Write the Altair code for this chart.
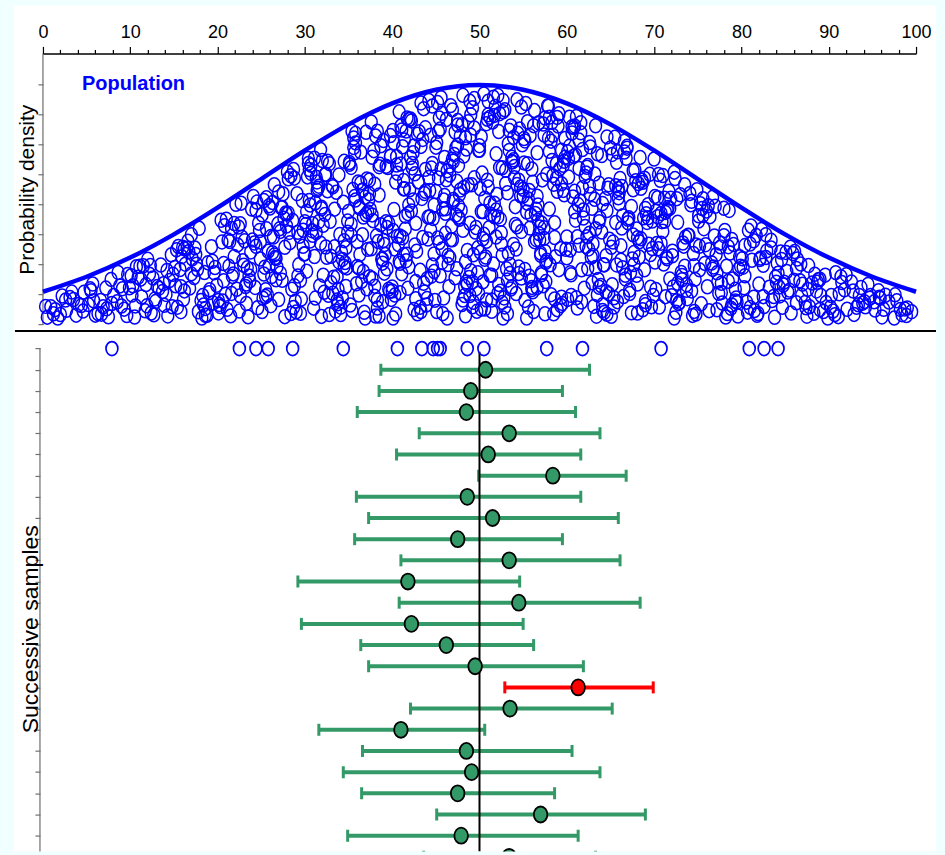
import altair as alt
import numpy as np
import pandas as pd

# ---------------- data ----------------
# population density curve, read every 5 units of x
curve_x = [0, 5, 10, 15, 20, 25, 30, 35, 40, 45, 50, 55, 60, 65, 70, 75, 80, 85, 90, 95, 100]
curve_d = [0.00216, 0.00316, 0.00444, 0.00599, 0.00777, 0.00968, 0.01159, 0.01333, 0.01473, 0.01564,
           0.01596, 0.01564, 0.01473, 0.01333, 0.01159, 0.00968, 0.00777, 0.00599, 0.00444, 0.00316, 0.00216]

# population dots: x position (tenths of a unit) and height as % of the room under the curve
pop_x_tenths = [
    12, 31, 5, 44, 22, 38, 9, 27, 47, 17, 35, 41,
    63, 88, 52, 75, 97, 69, 81, 57, 93, 72, 85, 60, 99, 78, 66, 90, 55,
    127, 103, 141, 115, 148, 109, 133, 120, 106, 145, 124, 112, 137, 101, 129, 118, 143, 107, 131, 122, 139, 113, 147, 126,
    152, 178, 165, 191, 157, 184, 170, 197, 161, 175, 188, 153, 168, 194, 181, 159, 173, 186, 163, 199, 155, 177, 190, 167, 182, 158, 171, 195, 162, 185, 176,
    203, 231, 217, 245, 209, 238, 224, 201, 249, 214, 233, 227, 206, 242, 219, 236, 211, 247, 229, 204, 222, 240, 215, 234, 208, 226, 244, 212, 237, 221, 202, 248, 230, 216, 243, 207, 225, 239, 218,
    253, 278, 261, 294, 270, 257, 286, 299, 265, 274, 251, 290, 282, 268, 259, 296, 276, 263, 288, 255, 272, 284, 297, 266, 280, 252, 292, 262, 275, 287, 258, 269, 295, 281, 254, 273, 289, 264, 277, 298, 260, 285, 271, 256, 293, 279, 267, 283,
    301, 327, 314, 342, 306, 335, 320, 348, 309, 331, 317, 344, 303, 324, 338, 311, 346, 329, 305, 322, 340, 313, 333, 302, 319, 347, 326, 308, 337, 315, 343, 323, 304, 330, 318, 345, 310, 336, 325, 349, 307, 321, 339, 312, 334, 300, 328, 341, 316, 332, 345, 306, 324, 338, 319, 311,
    352, 378, 364, 391, 357, 384, 370, 397, 361, 375, 388, 353, 368, 394, 381, 359, 373, 386, 363, 399, 355, 377, 390, 367, 382, 358, 371, 395, 362, 385, 376, 351, 393, 366, 380, 356, 389, 372, 398, 360, 383, 369, 354, 392, 379, 365, 387, 374, 396, 350, 383, 362, 377, 391, 358, 369, 385, 353, 374, 398, 366, 389, 380,
    402, 427, 414, 441, 406, 433, 419, 447, 409, 424, 438, 403, 416, 444, 430, 411, 436, 422, 449, 405, 428, 413, 442, 418, 434, 401, 425, 446, 410, 439, 420, 407, 431, 415, 445, 423, 404, 437, 417, 448, 426, 412, 435, 400, 421, 443, 408, 432, 414, 440, 429, 403, 446, 419, 436, 411, 425, 442, 406, 433, 416, 448, 422, 409, 438, 427, 401, 444, 413,
    452, 478, 465, 491, 457, 484, 470, 497, 461, 475, 488, 453, 468, 494, 481, 459, 473, 486, 463, 499, 455, 477, 490, 467, 482, 458, 471, 495, 462, 485, 476, 451, 493, 466, 480, 456, 489, 472, 498, 460, 483, 469, 454, 492, 479, 464, 487, 474, 496, 450, 481, 463, 476, 490, 457, 470, 486, 453, 473, 499, 466, 489, 478, 459, 484, 469, 494, 455, 475, 461, 492, 482,
    503, 528, 515, 541, 507, 534, 520, 548, 510, 525, 538, 502, 517, 544, 531, 509, 523, 536, 513, 549, 505, 527, 540, 518, 533, 501, 522, 546, 511, 537, 526, 506, 543, 516, 530, 504, 539, 521, 547, 512, 535, 519, 500, 542, 529, 514, 545, 524, 508, 532, 519, 541, 506, 527, 514, 548, 523, 537, 510, 532, 502, 545, 517, 529, 539, 508, 521, 543, 512, 534, 526, 504,
    552, 577, 564, 590, 556, 583, 569, 597, 560, 574, 587, 553, 567, 594, 580, 558, 572, 585, 562, 599, 555, 576, 589, 566, 581, 551, 571, 595, 561, 586, 575, 557, 592, 565, 579, 554, 588, 570, 598, 559, 582, 568, 550, 591, 578, 563, 596, 573, 556, 584, 569, 593, 560, 577, 552, 589, 566, 583, 574, 597, 562, 580, 555, 571, 594, 567, 586, 558, 575,
    602, 628, 615, 641, 606, 633, 620, 647, 609, 624, 638, 603, 617, 644, 630, 611, 636, 622, 649, 605, 627, 613, 642, 618, 634, 601, 625, 646, 610, 639, 621, 607, 631, 614, 645, 623, 604, 637, 616, 648, 626, 612, 635, 600, 619, 643, 608, 632, 629, 640, 603, 622, 637, 611, 646, 618, 633, 606, 626, 641, 614, 630, 609,
    653, 678, 665, 691, 657, 684, 670, 697, 661, 675, 688, 652, 668, 694, 681, 659, 673, 686, 663, 699, 655, 677, 690, 667, 682, 658, 671, 695, 662, 685, 676, 651, 693, 666, 680, 656, 689, 672, 698, 660, 683, 669, 654, 692, 679, 664, 687, 674, 696, 650, 681, 663, 676, 690, 657, 670,
    702, 727, 714, 741, 706, 733, 719, 747, 709, 724, 738, 703, 716, 744, 730, 711, 736, 722, 749, 705, 728, 713, 742, 718, 734, 701, 725, 746, 710, 739, 720, 707, 731, 715, 745, 723, 704, 737, 717, 748, 726, 712, 735, 700, 721, 743, 708, 732,
    752, 778, 764, 790, 757, 784, 770, 797, 761, 775, 788, 753, 768, 794, 781, 759, 773, 786, 763, 799, 755, 777, 791, 767, 782, 751, 771, 795, 762, 785, 776, 756, 793, 766, 780, 754, 789, 772, 798,
    803, 829, 815, 842, 808, 835, 821, 848, 811, 826, 839, 804, 818, 845, 832, 812, 837, 823, 849, 806, 828, 814, 843, 819, 834, 801, 825, 846, 810, 840, 822,
    852, 878, 864, 891, 857, 884, 870, 897, 861, 875, 888, 853, 868, 894, 881, 859, 873, 886, 863, 899, 855, 877, 890, 867,
    903, 929, 915, 942, 908, 935, 921, 948, 911, 926, 939, 905, 918, 945, 932, 912, 937,
    953, 978, 961, 990, 957, 984, 969, 995, 965, 975, 987, 959,
]
pop_h_pct = [
    20, 75, 5, 40, 90, 10, 55, 30, 80, 0, 65, 45,
    12, 67, 40, 3, 85, 28, 50, 95, 18, 72, 35, 8, 58, 88, 45, 25, 78,
    5, 60, 33, 88, 15, 72, 44, 95, 22, 51, 8, 67, 38, 80, 25, 55, 3, 92, 47, 70, 18, 36, 85, 62,
    42, 7, 83, 29, 61, 14, 96, 50, 23, 71, 3, 88, 35, 57, 19, 76, 46, 10, 65, 32, 91, 54, 26, 78, 0, 39, 68, 15, 84, 48, 60,
    11, 64, 37, 90, 22, 53, 78, 5, 45, 69, 28, 97, 16, 59, 83, 34, 8, 73, 48, 93, 25, 62, 2, 41, 86, 19, 56, 71, 30, 99, 13, 67, 44, 80, 24, 51, 6, 87, 39,
    33, 71, 9, 52, 88, 17, 64, 40, 95, 26, 78, 4, 57, 36, 82, 12, 68, 47, 91, 21, 60, 3, 74, 43, 98, 15, 55, 30, 85, 7, 49, 66, 24, 93, 38, 76, 11, 58, 1, 45, 80, 19, 62, 89, 34, 70, 27, 50,
    58, 13, 81, 36, 69, 4, 92, 27, 50, 75, 19, 63, 87, 41, 8, 96, 30, 55, 72, 15, 46, 84, 23, 66, 1, 38, 90, 53, 10, 77, 32, 60, 98, 20, 44, 85, 6, 70, 35, 52, 93, 25, 79, 12, 61, 40, 88, 2, 57, 74, 28, 47, 83, 16, 65, 37,
    7, 49, 86, 22, 64, 38, 95, 13, 71, 55, 29, 80, 3, 44, 91, 18, 60, 76, 33, 9, 68, 52, 87, 24, 41, 97, 15, 73, 58, 1, 35, 83, 47, 66, 11, 90, 27, 54, 78, 40, 5, 62, 99, 31, 84, 19, 46, 70, 14, 57, 93, 26, 81, 36, 62, 0, 75, 50, 21, 88, 43, 8, 67,
    52, 17, 84, 36, 69, 3, 93, 45, 26, 77, 58, 11, 88, 40, 63, 21, 96, 50, 8, 73, 31, 65, 99, 14, 55, 42, 80, 24, 91, 6, 60, 35, 86, 48, 19, 72, 2, 57, 94, 29, 67, 38, 82, 13, 75, 46, 98, 22, 61, 9, 85, 33, 70, 53, 16, 89, 4, 64, 39, 79, 27, 51, 92, 12, 68, 44, 0, 83, 30,
    36, 81, 14, 59, 92, 25, 70, 3, 47, 88, 18, 63, 41, 97, 8, 53, 76, 30, 66, 11, 85, 44, 21, 95, 58, 2, 73, 38, 89, 16, 50, 79, 28, 64, 6, 99, 42, 83, 20, 55, 10, 71, 34, 93, 48, 24, 87, 61, 13, 77, 39, 0, 68, 90, 31, 52, 15, 84, 46, 74, 27, 96, 57, 9, 80, 35, 62, 19, 86, 49, 5, 72,
    64, 9, 87, 42, 27, 75, 55, 18, 96, 33, 70, 4, 51, 83, 22, 61, 91, 13, 46, 78, 37, 0, 68, 94, 29, 57, 15, 85, 40, 72, 7, 53, 98, 24, 66, 35, 81, 11, 59, 89, 20, 48, 76, 31, 93, 3, 62, 44, 86, 17, 73, 50, 26, 97, 8, 39, 67, 14, 90, 56, 80, 23, 45, 5, 71, 34, 99, 60, 19, 84, 28, 47,
    22, 67, 48, 91, 5, 74, 36, 59, 13, 85, 29, 97, 52, 10, 78, 41, 64, 2, 88, 33, 70, 17, 95, 56, 25, 81, 44, 7, 62, 38, 93, 19, 71, 50, 84, 0, 66, 30, 77, 47, 11, 90, 58, 23, 99, 35, 73, 15, 54, 86, 42, 6, 68, 27, 80, 60, 14, 92, 37, 75, 3, 51, 89, 20, 64, 45, 9, 83, 31,
    77, 31, 58, 4, 90, 46, 15, 69, 94, 25, 52, 83, 8, 63, 38, 99, 20, 73, 42, 11, 87, 56, 28, 65, 1, 80, 35, 96, 48, 17, 71, 59, 6, 88, 33, 76, 22, 50, 92, 13, 67, 40, 85, 29, 54, 3, 79, 61, 18, 45, 97, 36, 70, 10, 57, 84, 26, 93, 43, 7, 74, 32, 62,
    41, 86, 12, 63, 29, 95, 54, 7, 77, 34, 60, 18, 90, 45, 3, 71, 26, 82, 50, 14, 98, 38, 66, 22, 79, 9, 57, 88, 32, 47, 74, 1, 61, 93, 25, 52, 84, 16, 43, 69, 36, 97, 11, 58, 80, 28, 5, 64, 39, 91, 20, 73, 48, 8, 85, 56,
    18, 66, 40, 91, 7, 53, 80, 29, 62, 95, 14, 47, 73, 2, 86, 35, 58, 21, 97, 44, 10, 69, 83, 26, 51, 76, 4, 39, 92, 60, 15, 88, 32, 71, 48, 0, 64, 24, 84, 55, 12, 78, 37, 99, 45, 20, 67, 30,
    55, 13, 82, 36, 70, 4, 93, 47, 25, 64, 9, 88, 42, 19, 77, 58, 31, 97, 6, 50, 85, 22, 68, 40, 1, 74, 53, 15, 90, 33, 61, 80, 27, 45, 96, 11, 72, 38, 59,
    30, 77, 8, 56, 89, 21, 64, 43, 95, 13, 50, 72, 3, 84, 36, 60, 26, 98, 47, 16, 69, 81, 39, 5, 92, 58, 24, 75, 11, 44, 66,
    62, 18, 85, 40, 7, 73, 51, 29, 94, 3, 66, 35, 80, 12, 57, 90, 24, 46, 71, 0, 38, 83, 15, 55,
    44, 9, 76, 31, 92, 58, 20, 67, 3, 85, 40, 14, 62, 96, 27, 51, 80,
    25, 70, 4, 48, 88, 15, 59, 33, 80, 0, 42, 65,
]
# more population dots (same encoding)
pop2_x_tenths = [
    3, 20, 33, 14, 46, 26,
    54, 79, 67, 91, 58, 86, 73, 96,
    102, 135, 117, 149, 111, 128, 142, 105, 123, 138, 119,
    151, 183, 166, 196, 158, 174, 189, 162, 179, 154, 193, 170, 186, 160,
    205, 232, 219, 246, 210, 238, 223, 201, 244, 213, 235, 228, 207, 241, 216, 249, 226, 233,
    251, 277, 263, 292, 256, 284, 270, 298, 259, 274, 288, 253, 267, 295, 281, 261, 272, 287, 255, 279, 265, 291,
    302, 326, 313, 341, 307, 334, 319, 347, 304, 330, 316, 343, 309, 323, 337, 312, 349, 328, 305, 321, 339, 314, 332, 300, 318, 345,
    351, 377, 363, 390, 356, 383, 371, 396, 360, 374, 387, 354, 367, 393, 380, 358, 372, 385, 362, 398, 353, 376, 389, 366, 381, 357, 370, 394, 364,
    401, 426, 413, 440, 405, 432, 418, 446, 408, 423, 437, 402, 415, 443, 429, 410, 435, 421, 448, 404, 427, 412, 441, 417, 433, 400, 424, 445, 409, 438, 419, 430,
    451, 477, 464, 490, 456, 483, 469, 496, 460, 474, 487, 452, 467, 493, 480, 458, 472, 485, 462, 498, 454, 476, 489, 466, 481, 457, 470, 494, 461, 484, 475, 450, 492,
    502, 527, 514, 540, 506, 533, 519, 547, 509, 524, 537, 501, 516, 543, 530, 508, 522, 535, 512, 548, 504, 526, 539, 517, 532, 500, 521, 545, 510, 536, 525, 505, 542,
    551, 576, 563, 589, 555, 582, 568, 596, 559, 573, 586, 552, 566, 593, 579, 557, 571, 584, 561, 598, 554, 575, 588, 565, 580, 550, 570, 594, 560, 585, 574, 591,
    601, 627, 614, 640, 605, 632, 619, 646, 608, 623, 637, 602, 616, 643, 629, 610, 635, 621, 648, 604, 626, 612, 641, 617, 633, 600, 624, 645, 609,
    652, 677, 664, 690, 656, 683, 669, 696, 660, 674, 687, 651, 667, 693, 680, 658, 672, 685, 662, 698, 654, 676, 689, 666, 681, 659,
    701, 726, 713, 740, 705, 732, 718, 746, 708, 723, 737, 702, 715, 743, 729, 710, 735, 721, 748, 704, 727, 712,
    751, 777, 763, 789, 756, 783, 769, 796, 760, 774, 787, 752, 767, 793, 780, 758, 772, 785,
    802, 828, 814, 841, 807, 834, 820, 847, 810, 825, 838, 804, 817, 844,
    851, 876, 863, 890, 856, 883, 869, 896, 860, 874, 887,
    902, 928, 914, 941, 907, 934, 920, 947,
    952, 976, 963, 989, 958, 982,
]
pop2_h_pct = [
    62, 15, 93, 38, 22, 70,
    85, 33, 10, 60, 48, 97, 22, 5,
    43, 77, 12, 58, 90, 29, 66, 2, 83, 49, 20,
    66, 24, 91, 45, 8, 79, 57, 33, 98, 14, 72, 51, 3, 87,
    72, 26, 54, 8, 91, 39, 63, 17, 84, 47, 1, 68, 35, 96, 22, 58, 80, 12,
    5, 48, 83, 27, 66, 94, 13, 55, 38, 76, 21, 88, 42, 3, 70, 59, 31, 97, 16, 62, 45, 80,
    29, 73, 51, 6, 88, 40, 64, 17, 95, 35, 78, 11, 57, 83, 23, 69, 46, 2, 91, 54, 31, 76, 14, 60, 99, 42,
    82, 20, 57, 38, 95, 9, 71, 46, 27, 63, 85, 4, 52, 74, 16, 92, 35, 61, 12, 78, 44, 99, 29, 66, 1, 87, 53, 24, 70,
    90, 34, 61, 18, 77, 5, 49, 96, 27, 70, 12, 84, 42, 58, 2, 73, 37, 93, 21, 65, 9, 81, 46, 30, 99, 15, 55, 68, 39, 87, 24, 63,
    3, 55, 28, 81, 67, 14, 93, 40, 72, 22, 59, 97, 35, 7, 86, 49, 18, 75, 62, 31, 90, 45, 10, 68, 99, 25, 53, 84, 38, 1, 77, 57, 16,
    47, 92, 19, 63, 4, 78, 36, 55, 88, 12, 70, 29, 98, 41, 60, 8, 83, 24, 51, 95, 16, 67, 33, 90, 2, 74, 45, 20, 58, 86, 38, 99, 11,
    70, 26, 95, 4, 52, 83, 39, 61, 17, 90, 45, 8, 76, 33, 99, 58, 21, 67, 12, 86, 48, 2, 73, 36, 94, 55, 29, 80, 14, 63, 42, 97,
    9, 63, 36, 85, 21, 74, 50, 2, 93, 41, 16, 68, 97, 28, 56, 80, 12, 46, 71, 33, 89, 5, 60, 24, 99, 39, 77, 14, 52,
    88, 31, 57, 10, 72, 45, 96, 19, 63, 3, 81, 38, 24, 69, 52, 91, 14, 77, 40, 60, 6, 85, 29, 99, 47, 66,
    35, 82, 14, 60, 91, 27, 73, 5, 48, 99, 20, 67, 39, 86, 11, 56, 95, 42, 3, 76, 24, 63,
    78, 30, 55, 12, 93, 46, 68, 2, 85, 21, 59, 37, 99, 16, 72, 43, 7, 64,
    50, 95, 22, 68, 6, 83, 37, 14, 76, 59, 1, 42, 88, 28,
    87, 45, 22, 68, 97, 8, 34, 79, 53, 16, 61,
    21, 65, 88, 45, 7, 34, 97, 58,
    50, 92, 30, 12, 68, 37,
]

# one sample drawn from the population
sample_x = [7.9, 22.5, 24.4, 25.8, 28.6, 34.4, 40.6, 43.4, 44.7, 45.2, 45.5, 48.6, 50.5,
            57.7, 61.8, 70.8, 80.9, 82.6, 84.2]

# successive samples: lower limit, mean, upper limit
ci_lo = [38.7, 38.5, 36.0, 43.1, 40.5, 49.9, 35.9, 37.3, 35.7, 41.0, 29.2, 40.8,
         29.6, 36.4, 37.3, 52.9, 42.1, 31.6, 36.6, 34.4, 36.5, 45.1, 34.9, 43.6]
ci_mean = [50.7, 49.0, 48.5, 53.4, 51.0, 58.4, 48.6, 51.5, 47.5, 53.4, 41.8, 54.5,
           42.2, 46.2, 49.5, 61.3, 53.5, 41.0, 48.5, 49.1, 47.5, 57.0, 47.9, 53.4]
ci_hi = [62.6, 59.5, 61.0, 63.8, 61.6, 66.8, 61.6, 65.9, 59.5, 66.1, 54.6, 68.4,
         55.0, 56.2, 61.9, 69.9, 65.2, 50.6, 60.6, 63.8, 58.6, 69.0, 61.3, 63.3]
mu = 50

# ---------------- tables ----------------
pairs = list(zip(pop_x_tenths, pop_h_pct)) + list(zip(pop2_x_tenths, pop2_h_pct))
px = np.array([p[0] for p in pairs]) / 10.0
ph = np.array([p[1] for p in pairs]) / 99.0
room = np.interp(px, curve_x, curve_d)
py = 0.0004 + ph * (room - 0.00097)
pop = pd.DataFrame({"x": px, "y": py})
curve = pd.DataFrame({"x": curve_x, "y": curve_d})
sample = pd.DataFrame({"x": sample_x, "row": [0] * len(sample_x)})
ci = pd.DataFrame({"row": list(range(1, len(ci_mean) + 1)), "lo": ci_lo, "x": ci_mean, "hi": ci_hi})
ci["kind"] = np.where((ci["lo"] > mu) | (ci["hi"] < mu), "miss", "hit")
one = pd.DataFrame({"k": [0]})

# ---------------- styling ----------------
W, HT, HB = 874, 278, 521
DMIN, DMAX = -0.000467, 0.018067
R0, R1 = -0.825, 23.75
SANS = "Liberation Sans, Arial, sans-serif"
BLUE = "#0000FF"
GREEN = "#339966"
ELL = "M-0.85,0A0.85,1 0 1,1 0.85,0A0.85,1 0 1,1 -0.85,0Z"

xscale = alt.Scale(domain=[0, 100], nice=False, zero=False)

x_top = alt.X(
    "x:Q", scale=xscale,
    axis=alt.Axis(
        orient="top", values=list(range(0, 101, 2)),
        labelExpr="datum.value % 10 === 0 ? datum.label : ''",
        tickSize={"condition": {"test": "datum.value % 10 === 0", "value": 7}, "value": 4},
        tickColor="black", tickWidth=1.2, domainColor="black", domainWidth=1.5,
        labelFont=SANS, labelFontSize=18, labelColor="black", labelPadding=5,
        labelOverlap=False, labelFlush=False, grid=False, title=None, zindex=1,
    ),
)
y_top = alt.Y(
    "y:Q", scale=alt.Scale(domain=[DMIN, DMAX], nice=False, zero=False),
    axis=alt.Axis(
        values=[0, 0.002, 0.004, 0.006, 0.008, 0.010, 0.012, 0.014, 0.016],
        labels=False, domain=False, tickColor="#707070", tickSize=5, tickWidth=1.2, grid=False,
        title="Probability density", titleFont=SANS, titleFontSize=21, titleFontWeight="normal",
        titleColor="black", titleAngle=270, titleAlign="center", titleBaseline="middle",
        titleX=-15.5, titleY=136, zindex=1,
    ),
)

bg_top = alt.Chart(one).mark_rect(color="white").encode(
    x=alt.value(-29), x2=alt.value(894), y=alt.value(-48), y2=alt.value(HT))
axis_line_top = alt.Chart(one).mark_rule(color="#8a8a8a", strokeWidth=1.5).encode(
    x=alt.value(0), y=alt.value(0), y2=alt.value(272))
dots = alt.Chart(pop).mark_point(shape=ELL, size=196, filled=False, color=BLUE,
                                 strokeWidth=1.5, opacity=1).encode(x=x_top, y=y_top)
line = alt.Chart(curve).mark_line(color=BLUE, strokeWidth=4.5, interpolate="monotone").encode(
    x=x_top, y=y_top)
label = alt.Chart(one).mark_text(text="Population", font=SANS, fontSize=20, fontWeight="bold",
                                 color=BLUE, align="left", baseline="middle").encode(
    x=alt.value(39), y=alt.value(31))

top = alt.layer(bg_top, axis_line_top, dots, line, label).properties(width=W, height=HT)

x_bot = alt.X("x:Q", scale=xscale, axis=None)
y_bot = alt.Y(
    "row:Q", scale=alt.Scale(domain=[R0, R1], reverse=True, nice=False, zero=False),
    axis=alt.Axis(
        values=list(range(0, 24)), labels=False, domain=False, offset=3,
        tickColor="#707070", tickSize=5, tickWidth=1.2, grid=False,
        title="Successive samples", titleFont=SANS, titleFontSize=23, titleFontWeight="normal",
        titleColor="black", titleAngle=270, titleAlign="center", titleBaseline="middle",
        titleX=-9.5, titleY=298, zindex=1,
    ),
)
kind_scale = alt.Scale(domain=["hit", "miss"], range=[GREEN, "#FF0000"])

bg_bot = alt.Chart(one).mark_rect(color="white").encode(
    x=alt.value(-29), x2=alt.value(894), y=alt.value(0), y2=alt.value(HB))
sep = alt.Chart(one).mark_rule(color="black", strokeWidth=2).encode(
    x=alt.value(-28), x2=alt.value(894), y=alt.value(0))
axis_line_bot = alt.Chart(one).mark_rule(color="#8a8a8a", strokeWidth=1.5).encode(
    x=alt.value(-3), y=alt.value(17), y2=alt.value(HB))
bars = alt.Chart(ci).mark_rule(strokeWidth=4, clip=True).encode(
    x=alt.X("lo:Q", scale=xscale, axis=None), x2="hi:Q", y=y_bot,
    color=alt.Color("kind:N", scale=kind_scale, legend=None))
cap_lo = alt.Chart(ci).mark_tick(orient="vertical", size=12, thickness=3, opacity=1, clip=True).encode(
    x=alt.X("lo:Q", scale=xscale, axis=None), y=y_bot,
    color=alt.Color("kind:N", scale=kind_scale, legend=None))
cap_hi = alt.Chart(ci).mark_tick(orient="vertical", size=12, thickness=3, opacity=1, clip=True).encode(
    x=alt.X("hi:Q", scale=xscale, axis=None), y=y_bot,
    color=alt.Color("kind:N", scale=kind_scale, legend=None))
mu_df = pd.DataFrame({"x": [mu], "row": [0.15], "r1": [R1]})
mu_line = alt.Chart(mu_df).mark_rule(color="black", strokeWidth=2, clip=True).encode(
    x=x_bot, y=y_bot, y2="r1:Q")
means = alt.Chart(ci).mark_point(shape=ELL, size=256, filled=True, stroke="black", strokeWidth=1.8,
                                 opacity=1, clip=True).encode(
    x=x_bot, y=y_bot, fill=alt.Fill("kind:N", scale=kind_scale, legend=None))
samp = alt.Chart(sample).mark_point(shape=ELL, size=196, filled=False, color=BLUE, strokeWidth=1.7,
                                    opacity=1).encode(x=x_bot, y=y_bot)

bottom = alt.layer(bg_bot, axis_line_bot, bars, cap_lo, cap_hi, mu_line, means, samp, sep).properties(
    width=W, height=HB)

chart = alt.vconcat(top, bottom, spacing=0, bounds="flush").resolve_scale(
    x="independent", y="independent").properties(
    background="#F0FFFF", padding={"left": 14, "top": 5, "right": 8, "bottom": 3}
).configure_view(strokeOpacity=0)

chart.save("out.html", embed_options={"renderer": "svg", "actions": False})
